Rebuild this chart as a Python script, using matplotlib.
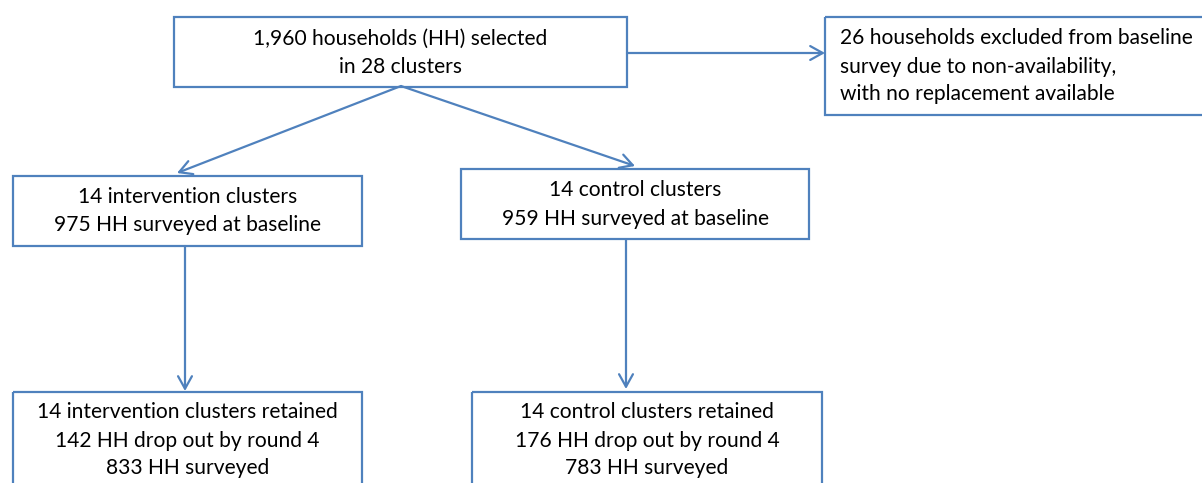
import matplotlib.pyplot as plt
from matplotlib.patches import Rectangle

# box texts of the flow diagram
top_text = ['1,960 households (HH) selected', 'in 28 clusters']
excluded_text = ['26 households excluded from baseline',
                 'survey due to non-availability,',
                 'with no replacement available']
interv_base = ['14 intervention clusters', '975 HH surveyed at baseline']
control_base = ['14 control clusters', '959 HH surveyed at baseline']
interv_end = ['14 intervention clusters retained', '142 HH drop out by round 4', '833 HH surveyed']
control_end = ['14 control clusters retained', '176 HH drop out by round 4', '783 HH surveyed']

blue = '#4f81bd'
W, H = 1202, 483

fig = plt.figure(figsize=(W / 100, H / 100), dpi=100)
ax = fig.add_axes([0, 0, 1, 1])
ax.set_xlim(0, W)
ax.set_ylim(H, 0)
ax.axis('off')

font = dict(family='Lato', fontsize=15.1, color='black')


def box(x0, y0, x1, y1, lines, ys, align='center', tx=None):
    ax.add_patch(Rectangle((x0, y0), x1 - x0, y1 - y0, fill=False,
                           edgecolor=blue, linewidth=1.6, clip_on=False))
    if tx is None:
        tx = (x0 + x1) / 2
    for line, y in zip(lines, ys):
        ax.text(tx, y, line, ha=align, va='center', **font)


def arrow(x0, y0, x1, y1):
    ax.annotate('', xy=(x1, y1), xytext=(x0, y0),
                arrowprops=dict(arrowstyle='->,head_length=0.9,head_width=0.5',
                                color=blue, lw=1.6, shrinkA=0, shrinkB=0))


box(174, 17, 627, 87, top_text, [39, 67])
box(825, 17, 1210, 115, excluded_text, [38, 67, 94], align='left', tx=840)
box(13, 176, 362, 246, interv_base, [197, 225])
box(461, 169, 809, 239, control_base, [190, 219])
box(13, 392, 362, 500, interv_end, [412, 441, 468])
box(472, 392, 822, 500, control_end, [412, 441, 468])

arrow(627, 53, 825, 53)
arrow(401, 86, 177, 173)
arrow(401, 86, 635, 166)
arrow(185, 246, 185, 391)
arrow(626, 240, 626, 389)

plt.savefig('out.png', dpi=100)
